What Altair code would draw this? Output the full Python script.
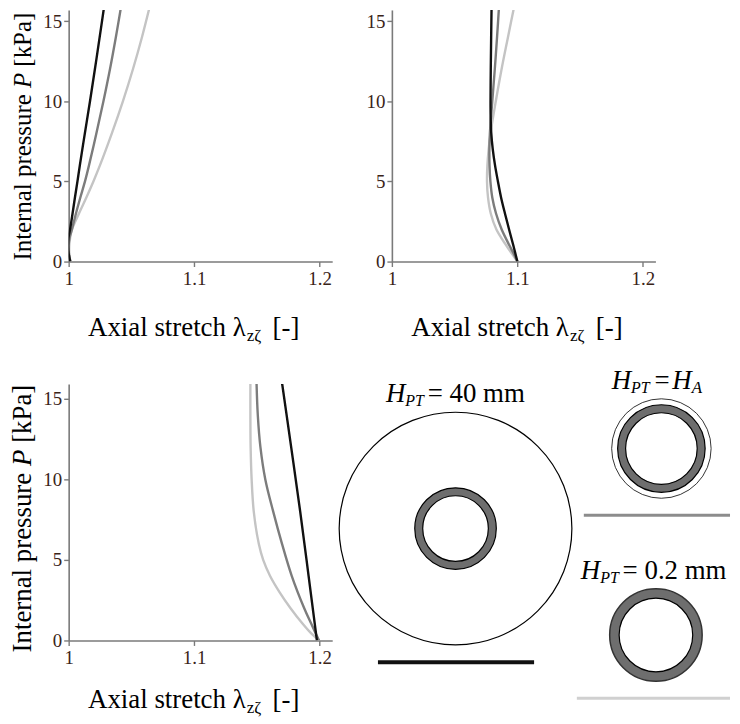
import altair as alt
import pandas as pd

FONT = "Liberation Serif"

# series (drawing order: light, dark, black)
configs = ["H_PT = 0.2 mm", "H_PT = H_A", "H_PT = 40 mm"]
colors = ["#c4c4c4", "#7c7c7c", "#111111"]

# ---- Panel A (top left) ----
pA_P02 = [0, 0.5, 1, 1.5, 2, 3, 4, 5, 6, 8, 10, 12, 14, 16.2]
pA_lam02 = [1.0013, 1.0005, 1.0005, 1.0012, 1.0026, 1.0082, 1.0141, 1.0197, 1.0249, 1.0344, 1.0432, 1.0512, 1.0584, 1.0655]
pA_PHA = [0, 0.5, 1, 1.5, 2, 3, 4, 5, 6, 8, 10, 12, 14, 16.2]
pA_lamHA = [1.0013, 1.0002, 1.0000, 1.0008, 1.0026, 1.0058, 1.0093, 1.0130, 1.0162, 1.0221, 1.0277, 1.0329, 1.0376, 1.0424]
pA_P40 = [0, 0.5, 1, 1.5, 2, 3, 4, 5, 6, 8, 10, 12, 14, 16.2]
pA_lam40 = [1.0013, 1.0000, 0.9996, 0.9999, 1.0011, 1.0031, 1.0050, 1.0070, 1.0089, 1.0129, 1.0170, 1.0209, 1.0247, 1.0288]

# ---- Panel B (top right) ----
pB_P02 = [0, 0.5, 1, 2, 3, 4, 5, 6, 7, 8, 10, 12, 14, 16.2]
pB_lam02 = [1.1000, 1.0956, 1.0912, 1.0833, 1.0788, 1.0766, 1.0758, 1.0761, 1.0771, 1.0786, 1.0828, 1.0874, 1.0925, 1.0982]
pB_PHA = [0, 0.5, 1, 2, 3, 4, 5, 6, 7, 8, 10, 12, 14, 16.2]
pB_lamHA = [1.1000, 1.0970, 1.0937, 1.0875, 1.0830, 1.0800, 1.0785, 1.0778, 1.0777, 1.0781, 1.0800, 1.0820, 1.0838, 1.0856]
pB_P40 = [0, 1, 2, 3, 4, 5, 6, 7, 8, 9, 10, 12, 14, 16.2]
pB_lam40 = [1.1000, 1.0968, 1.0934, 1.0901, 1.0870, 1.0845, 1.0822, 1.0804, 1.0792, 1.0787, 1.0786, 1.0788, 1.0791, 1.0795]

# ---- Panel C (bottom left) ----
pC_P02 = [0, 0.5, 1, 2, 3, 4, 5, 6, 8, 10, 12, 14, 16]
pC_lam02 = [1.1995, 1.1925, 1.1868, 1.1768, 1.1680, 1.1605, 1.1550, 1.1515, 1.1475, 1.1458, 1.1450, 1.1448, 1.1448]
pC_PHA = [0, 1, 2, 4, 6, 8, 10, 12, 14, 16]
pC_lamHA = [1.1995, 1.1935, 1.1877, 1.1778, 1.1700, 1.1630, 1.1567, 1.1528, 1.1507, 1.1497]
pC_P40 = [0, 4, 8, 12, 16]
pC_lam40 = [1.1978, 1.1912, 1.1845, 1.1773, 1.1700]

x_ticks = [1, 1.1, 1.2]
y_ticks = [0, 5, 10, 15]

AXIS_GREY = "#7a7a7a"
LABEL_COL = "#3a2418"


def xaxis():
    return alt.Axis(values=x_ticks, format="~g", title=None, grid=False,
                    domainColor=AXIS_GREY, domainWidth=1.6, tickColor=AXIS_GREY,
                    tickWidth=1.4, tickSize=5, labelFont=FONT, labelFontSize=19,
                    labelColor=LABEL_COL, labelPadding=3, labelFlush=False,
                    labelOverlap=False)


def yaxis():
    return alt.Axis(values=y_ticks, title=None, grid=False,
                    domainColor=AXIS_GREY, domainWidth=1.6, tickColor=AXIS_GREY,
                    tickWidth=1.4, tickSize=5, labelFont=FONT, labelFontSize=19,
                    labelColor=LABEL_COL, labelPadding=2, labelFlush=False,
                    labelOverlap=False)


def txt(s, x, y, size, italic=False, align="left", baseline="alphabetic",
        angle=0, color="#000000"):
    props = dict(font=FONT, fontSize=size, align=align, baseline=baseline,
                 color=color)
    if italic:
        props["fontStyle"] = "italic"
    if angle:
        props["angle"] = angle
    return alt.Chart(pd.DataFrame({"t": [s]})).mark_text(**props).encode(
        x=alt.value(x), y=alt.value(y), text="t:N")


def line_layer(P, lam, color, xs, ys):
    df = pd.DataFrame({"P": P, "lam": lam, "i": list(range(len(P)))})
    return alt.Chart(df).mark_line(color=color, strokeWidth=2.4, clip=True,
                                   interpolate="catmull-rom").encode(
        x=alt.X("lam:Q", scale=xs, axis=xaxis()),
        y=alt.Y("P:Q", scale=ys, axis=yaxis()),
        order=alt.Order("i:Q"),
    )


def panel(curves, ytop, height, xtitle_y, ytitle=None):
    xs = alt.Scale(domain=[1, 1.21], nice=False, zero=False)
    ys = alt.Scale(domain=[0, ytop], nice=False, zero=False)
    layers = [line_layer(P, lam, col, xs, ys) for (P, lam, col) in curves]
    layers += [
        txt("Axial stretch λ", 178, xtitle_y, 27, align="right"),
        txt("zζ", 179, xtitle_y + 5, 17),
        txt("[-]", 205, xtitle_y, 27),
    ]
    if ytitle is not None:
        xc, size, y0, yp, yk = ytitle
        layers += [
            txt("Internal pressure", xc, y0, size, angle=270, baseline="middle"),
            txt("P", xc, yp, size, italic=True, angle=270, baseline="middle"),
            txt("[kPa]", xc, yk, size, angle=270, baseline="middle"),
        ]
    return alt.layer(*layers).properties(width=265, height=height)


panelA = panel([(pA_P02, pA_lam02, colors[0]), (pA_PHA, pA_lamHA, colors[1]),
                (pA_P40, pA_lam40, colors[2])], 15.7, 253, 328,
               ytitle=(-46, 25, 252, 78.5, 57))
panelB = panel([(pB_P02, pB_lam02, colors[0]), (pB_PHA, pB_lamHA, colors[1]),
                (pB_P40, pB_lam40, colors[2])], 15.7, 253, 328)
panelC = panel([(pC_P02, pC_lam02, colors[0]), (pC_PHA, pC_lamHA, colors[1]),
                (pC_P40, pC_lam40, colors[2])], 15.93, 258, 326,
               ytitle=(-46, 27, 270, 82.5, 59.3))


# ---- schematic of the three configurations ----
RING = "#6e6e6e"


def circle(x, y, r, fill, stroke, sw=1.0):
    return alt.Chart(pd.DataFrame({"k": [0]})).mark_circle(
        size=(2 * r) ** 2, fill=fill, stroke=stroke, strokeWidth=sw,
        opacity=1, fillOpacity=1).encode(x=alt.value(x), y=alt.value(y))


def hline(x1, x2, y, color, w):
    return alt.Chart(pd.DataFrame({"k": [0]})).mark_rule(
        color=color, strokeWidth=w).encode(
        x=alt.value(x1), x2=alt.value(x2), y=alt.value(y))


schem_layers = [
    # H_PT = 40 mm
    circle(120, 145.5, 117, "#ffffff", "#000000", 1.2),
    circle(120, 145.5, 41, RING, "#000000", 1.2),
    circle(120, 145.5, 33, "#ffffff", "#000000", 1.2),
    txt("H", 50, 18, 27, italic=True),
    txt("PT", 69.5, 22, 16, italic=True),
    txt("= 40 mm", 92, 18, 27),
    hline(42, 199, 280, colors[2], 4),
    # H_PT = H_A
    circle(327, 65, 50, "#ffffff", "#000000", 0.8),
    circle(327, 65, 44, RING, "#000000", 1.2),
    circle(327, 65, 36, "#ffffff", "#000000", 1.2),
    txt("H", 277, 5, 27, italic=True),
    txt("PT", 296.5, 9, 16, italic=True),
    txt("=", 320, 5, 27),
    txt("H", 338, 5, 27, italic=True),
    txt("A", 357.5, 9, 17, italic=True),
    hline(249, 396, 132, "#8c8c8c", 3),
    # H_PT = 0.2 mm
    circle(321.5, 252.5, 46.5, RING, "#333333", 1.5),
    circle(321.5, 252.5, 37, "#ffffff", "#000000", 1.2),
    txt("H", 246, 196, 27, italic=True),
    txt("PT", 265.5, 200, 16, italic=True),
    txt("= 0.2 mm", 288, 196, 27),
    hline(242, 396, 316, "#d0d0d0", 3),
]
schematic = alt.layer(*schem_layers).properties(width=396, height=258)

row1 = alt.hconcat(panelA, panelB, spacing=34)
row2 = alt.hconcat(panelC, schematic, spacing=4)
chart = alt.vconcat(row1, row2, spacing=23).properties(
    padding={"left": 0, "top": 0, "right": 0, "bottom": 0}
).configure_view(strokeWidth=0)

chart.save("out.html", embed_options={"renderer": "svg", "actions": False})
